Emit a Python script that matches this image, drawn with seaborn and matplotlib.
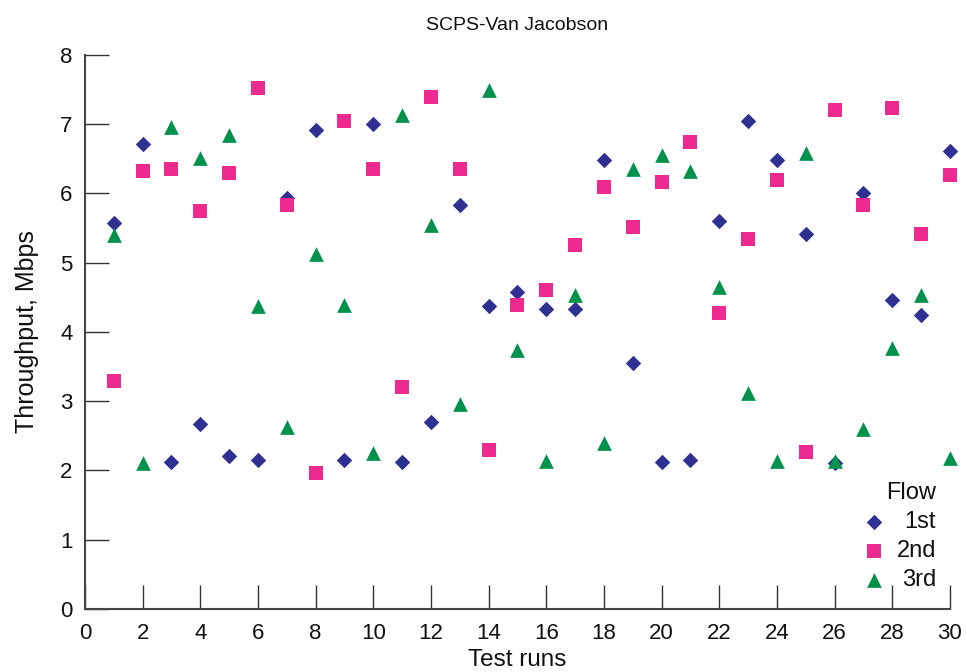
import matplotlib
matplotlib.use("Agg")
import matplotlib.pyplot as plt
import seaborn as sns
import pandas as pd

runs = list(range(1, 31))
flow_1st = [5.58, 6.71, 2.12, 2.67, 2.21, 2.15, 5.94, 6.91, 2.15, 7.00,
            2.12, 2.70, 5.83, 4.37, 4.57, 4.33, 4.33, 6.48, 3.55, 2.12,
            2.15, 5.60, 7.04, 6.48, 5.41, 2.11, 6.00, 4.46, 4.24, 6.61]
flow_2nd = [3.29, 6.33, 6.35, 5.74, 6.30, 7.53, 5.84, 1.96, 7.04, 6.35,
            3.20, 7.40, 6.35, 2.29, 4.39, 4.60, 5.25, 6.10, 5.51, 6.16,
            6.75, 4.28, 5.34, 6.19, 2.26, 7.21, 5.84, 7.23, 5.42, 6.26]
flow_3rd = [5.40, 2.11, 6.96, 6.51, 6.84, 4.37, 2.63, 5.12, 4.39, 2.25,
            7.14, 5.54, 2.96, 7.49, 3.74, 2.14, 4.53, 2.40, 6.35, 6.55,
            6.32, 4.65, 3.12, 2.14, 6.58, 2.14, 2.60, 3.77, 4.53, 2.18]
flow_names = ["1st", "2nd", "3rd"]
x_ticks = list(range(0, 31, 2))
y_ticks = list(range(0, 9))

sns.set_theme(style="white")
plt.rcParams['font.family'] = ['Liberation Sans', 'DejaVu Sans']

fig = plt.figure(figsize=(9.67, 6.72), dpi=100)
ax = fig.add_axes([0.0879, 0.0938, 0.8945, 0.8244])

styles = {
    "1st": dict(marker="D", color="#2E3192", s=62),
    "2nd": dict(marker="s", color="#EC2A8F", s=100),
    "3rd": dict(marker="^", color="#00914C", s=112),
}
for name, vals in zip(flow_names, [flow_1st, flow_2nd, flow_3rd]):
    df = pd.DataFrame({"run": runs, "tp": vals})
    st = styles[name]
    sns.scatterplot(data=df, x="run", y="tp", ax=ax, marker=st["marker"],
                    color=st["color"], s=st["s"], linewidth=0, label=name,
                    clip_on=False, zorder=3)

ax.set_xlim(0, 30)
ax.set_ylim(0, 8)
ax.set_xticks(x_ticks)
ax.set_yticks(y_ticks)
ax.tick_params(axis="both", direction="in", length=17, width=1.0,
               color="#333333", labelsize=16, labelcolor="#111111",
               left=True, bottom=True)
ax.tick_params(axis="x", pad=10)
ax.tick_params(axis="y", pad=9)
for side in ["top", "right"]:
    ax.spines[side].set_visible(False)
for side in ["left", "bottom"]:
    ax.spines[side].set_color("#444444")
    ax.spines[side].set_linewidth(1.5)

ax.set_xlabel("Test runs", fontsize=17.5, labelpad=4, color="#111111")
ax.set_ylabel("Throughput, Mbps", fontsize=18, labelpad=15, color="#111111")
ax.set_title("SCPS-Van Jacobson", fontsize=14, pad=18, color="#111111")

leg = ax.legend(title="Flow", loc="upper right",
                bbox_to_anchor=(936 / 967, 1 - 482 / 672),
                bbox_transform=fig.transFigure, frameon=False, fontsize=17,
                title_fontsize=17, markerscale=1.0, handletextpad=0.45,
                labelspacing=0.3, handlelength=1.0, borderpad=0,
                borderaxespad=0)
leg._legend_box.align = "right"
for t in leg.get_texts() + [leg.get_title()]:
    t.set_color("#111111")

# right-align the legend labels next to their markers
fig.canvas.draw()
renderer = fig.canvas.get_renderer()
widths = [t.get_window_extent(renderer).width for t in leg.get_texts()]
maxw = max(widths)
px_per_pt = renderer.points_to_pixels(1.0)
column = leg._legend_handle_box.get_children()[0]
for item, w in zip(column.get_children(), widths):
    item.sep = item.sep + (maxw - w) / px_per_pt

fig.savefig("out.png", dpi=100)
